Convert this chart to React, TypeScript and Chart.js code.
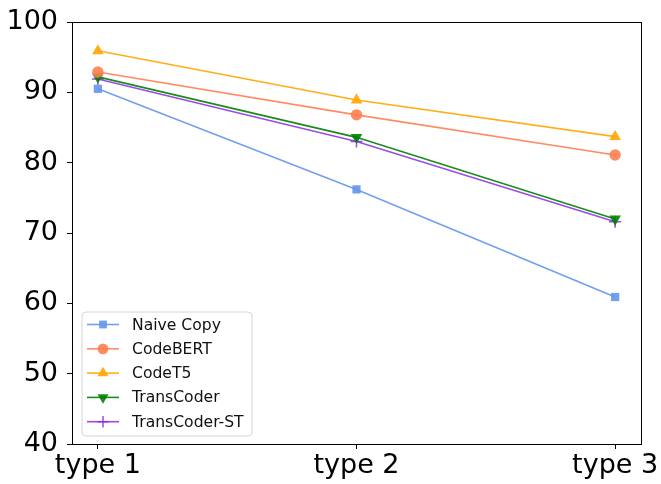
import React, { useEffect, useRef } from "react";
import { Chart, registerables } from "chart.js";

Chart.register(...registerables);

const categories = ["type 1", "type 2", "type 3"];
const naiveCopy = [90.5, 76.2, 60.9];
const codeBERT = [92.9, 86.8, 81.1];
const codeT5 = [95.9, 88.9, 83.7];
const transCoder = [92.2, 83.6, 72.0];
const transCoderST = [91.9, 83.0, 71.6];
const yTicks = [40, 50, 60, 70, 80, 90, 100];

const seriesDefs = [
  { label: "Naive Copy", values: naiveCopy, color: "rgba(100,149,237,0.9)", style: "rect", radius: 5.8, rotation: 0 },
  { label: "CodeBERT", values: codeBERT, color: "rgba(255,127,80,0.9)", style: "circle", radius: 5.7, rotation: 0 },
  { label: "CodeT5", values: codeT5, color: "rgba(255,165,0,0.9)", style: "triangle", radius: 6.7, rotation: 0 },
  { label: "TransCoder", values: transCoder, color: "rgba(0,128,0,0.9)", style: "triangle", radius: 6.7, rotation: 180 },
  { label: "TransCoder-ST", values: transCoderST, color: "rgba(138,43,226,0.85)", style: "cross", radius: 6, rotation: 0 },
];

const FONT = "'DejaVu Sans', sans-serif";

function drawMarker(ctx: CanvasRenderingContext2D, style: string, x: number, y: number, r: number, rot: number, color: string) {
  ctx.save();
  ctx.fillStyle = color;
  ctx.strokeStyle = color;
  ctx.lineWidth = 1.5;
  ctx.beginPath();
  if (style === "rect") {
    const s = Math.SQRT1_2 * r;
    ctx.rect(x - s, y - s, 2 * s, 2 * s);
    ctx.fill();
  } else if (style === "circle") {
    ctx.arc(x, y, r, 0, Math.PI * 2);
    ctx.fill();
  } else if (style === "triangle") {
    const rad = (rot * Math.PI) / 180;
    for (let i = 0; i < 3; i++) {
      const a = rad - Math.PI / 2 + (i * 2 * Math.PI) / 3;
      const px = x + Math.cos(a) * r;
      const py = y + Math.sin(a) * r;
      if (i === 0) ctx.moveTo(px, py);
      else ctx.lineTo(px, py);
    }
    ctx.closePath();
    ctx.fill();
  } else if (style === "cross") {
    ctx.moveTo(x - r, y);
    ctx.lineTo(x + r, y);
    ctx.moveTo(x, y - r);
    ctx.lineTo(x, y + r);
    ctx.stroke();
  }
  ctx.restore();
}

const framePlugin = {
  id: "frame",
  afterDatasetsDraw(chart: any) {
    const { ctx, chartArea } = chart;
    ctx.save();
    ctx.strokeStyle = "#000";
    ctx.lineWidth = 1;
    ctx.strokeRect(Math.round(chartArea.left) + 0.5, Math.round(chartArea.top) + 0.5, Math.round(chartArea.right - chartArea.left), Math.round(chartArea.bottom - chartArea.top));
    ctx.restore();
  },
};

const legendPlugin = {
  id: "innerLegend",
  afterDraw(chart: any) {
    const { ctx, chartArea } = chart;
    const x0 = chartArea.left + 10;
    const y0 = chartArea.bottom - 8 - 124;
    const w = 170;
    const h = 124;
    ctx.save();
    ctx.beginPath();
    const r = 4;
    ctx.moveTo(x0 + r, y0);
    ctx.arcTo(x0 + w, y0, x0 + w, y0 + h, r);
    ctx.arcTo(x0 + w, y0 + h, x0, y0 + h, r);
    ctx.arcTo(x0, y0 + h, x0, y0, r);
    ctx.arcTo(x0, y0, x0 + w, y0, r);
    ctx.closePath();
    ctx.fillStyle = "rgba(255,255,255,0.8)";
    ctx.fill();
    ctx.strokeStyle = "#d6d6d6";
    ctx.lineWidth = 1;
    ctx.stroke();
    ctx.font = `15.6px ${FONT}`;
    ctx.textBaseline = "middle";
    ctx.textAlign = "left";
    seriesDefs.forEach((s, i) => {
      const cy = y0 + 12.5 + i * 24.3;
      ctx.strokeStyle = s.color;
      ctx.lineWidth = 1.6;
      ctx.beginPath();
      ctx.moveTo(x0 + 5, cy);
      ctx.lineTo(x0 + 37, cy);
      ctx.stroke();
      drawMarker(ctx, s.style, x0 + 21, cy, s.radius * 0.95, s.rotation, s.color);
      ctx.fillStyle = "#111";
      ctx.fillText(s.label, x0 + 50, cy + 1);
    });
    ctx.restore();
  },
};

export default function App() {
  const canvasRef = useRef<HTMLCanvasElement | null>(null);

  useEffect(() => {
    document.body.style.margin = "0";
    const canvas = canvasRef.current;
    if (!canvas) return;
    const chart = new Chart(canvas, {
      type: "line",
      data: {
        datasets: seriesDefs.map((s) => ({
          label: s.label,
          data: s.values.map((v, i) => ({ x: i + 1, y: v })),
          borderColor: s.color,
          backgroundColor: s.color,
          borderWidth: 1.6,
          pointStyle: s.style as any,
          pointRadius: s.radius,
          pointRotation: s.rotation,
          pointBorderWidth: s.style === "cross" ? 1.5 : 0,
          pointHoverRadius: s.radius,
          tension: 0,
          fill: false,
        })),
      },
      options: {
        animation: false,
        responsive: true,
        maintainAspectRatio: false,
        layout: { padding: { top: 22, right: 20, left: 0, bottom: 0 } },
        plugins: { legend: { display: false }, tooltip: { enabled: false } },
        scales: {
          x: {
            type: "linear",
            min: 0.9,
            max: 3.1,
            afterBuildTicks: (scale: any) => {
              scale.ticks = categories.map((_, i) => ({ value: i + 1 }));
            },
            afterFit: (scale: any) => {
              scale.height = 40;
              scale.paddingLeft = 0;
              scale.paddingRight = 0;
            },
            ticks: {
              callback: (v: any) => categories[Number(v) - 1] ?? "",
              font: { family: FONT, size: 27 },
              color: "#000",
              padding: 1,
              maxRotation: 0,
              autoSkip: false,
            },
            grid: { drawOnChartArea: false, drawTicks: true, tickLength: 5, color: "#000" },
            border: { display: false },
          },
          y: {
            type: "linear",
            min: 40,
            max: 100,
            afterBuildTicks: (scale: any) => {
              scale.ticks = yTicks.map((v) => ({ value: v }));
            },
            afterFit: (scale: any) => {
              scale.width = 72;
              scale.paddingTop = 0;
              scale.paddingBottom = 0;
            },
            ticks: {
              font: { family: FONT, size: 27 },
              color: "#000",
              padding: 9,
            },
            grid: { drawOnChartArea: false, drawTicks: true, tickLength: 5, color: "#000" },
            border: { display: false },
          },
        },
      },
      plugins: [framePlugin, legendPlugin],
    });
    return () => chart.destroy();
  }, []);

  return (
    <div style={{ width: 661, height: 484, position: "relative" }}>
      <canvas ref={canvasRef} />
    </div>
  );
}
